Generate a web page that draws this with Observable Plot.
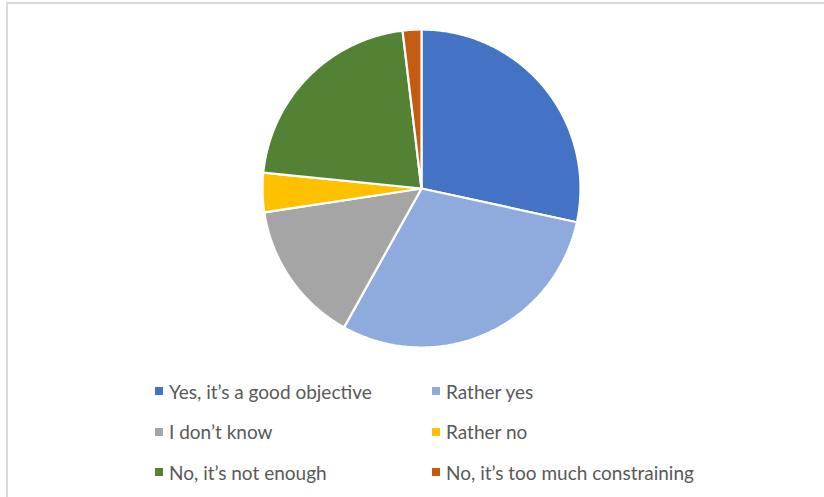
<!DOCTYPE html>
<html>
<head>
<meta charset="utf-8">
<script src="https://cdn.jsdelivr.net/npm/d3@7"></script>
<script src="https://cdn.jsdelivr.net/npm/@observablehq/plot@0.6"></script>
<style>
  body { margin: 0; background: #fff; }
  #wrap { position: relative; width: 824px; height: 497px; overflow: hidden; }
  #frame { position: absolute; left: 6px; top: 2px; width: 900px; height: 600px; border-left: 2px solid #d9d9d9; border-top: 2px solid #d9d9d9; pointer-events: none; }
  #legend { position: absolute; left: 155px; top: 371px; display: grid; grid-template-columns: 277px 320px; grid-auto-rows: 40.5px; font-family: Lato, "Liberation Sans", Arial, sans-serif; font-size: 19px; color: #595959; }
  .item { display: flex; align-items: center; white-space: nowrap; }
  .sw { width: 8px; height: 8px; margin-right: 6px; flex: none; }
</style>
</head>
<body>
<div id="wrap"><div id="chart"></div><div id="frame"></div><div id="legend"></div></div>
<script>
const categories = ["Yes, it’s a good objective", "Rather yes", "I don’t know", "Rather no", "No, it’s not enough", "No, it’s too much constraining"];
const values = [28.4, 29.7, 14.5, 4.0, 21.5, 1.9];
const colors = ["#4472C4", "#8FAADC", "#A5A5A5", "#FFC000", "#548235", "#C55A11"];

const arcs = d3.pie().sort(null).value(d => d.value)(categories.map((c, i) => ({cat: c, value: values[i]})));
const pts = [];
for (const a of arcs) {
  pts.push({cat: a.data.cat, x: 0, y: 0});
  const n = Math.max(2, Math.ceil((a.endAngle - a.startAngle) / 0.01));
  for (let k = 0; k <= n; k++) {
    const t = a.startAngle + (a.endAngle - a.startAngle) * k / n;
    pts.push({cat: a.data.cat, x: Math.sin(t), y: Math.cos(t)});
  }
  pts.push({cat: a.data.cat, x: 0, y: 0});
}

const chart = Plot.plot({
  width: 824,
  height: 497,
  margin: 0,
  x: {domain: [-1, 1], range: [262, 580], axis: null},
  y: {domain: [-1, 1], range: [347, 29], axis: null},
  color: {domain: categories, range: colors},
  marks: [
    Plot.line(pts, {x: "x", y: "y", z: "cat", fill: "cat", stroke: "white", strokeWidth: 2.2, strokeLinejoin: "miter"})
  ]
});
document.getElementById("chart").appendChild(chart);

const legend = document.getElementById("legend");
categories.forEach((c, i) => {
  const it = document.createElement("div");
  it.className = "item";
  const sw = document.createElement("span");
  sw.className = "sw";
  sw.style.background = colors[i];
  const tx = document.createElement("span");
  tx.textContent = c;
  it.appendChild(sw); it.appendChild(tx);
  legend.appendChild(it);
});
</script>
</body>
</html>
